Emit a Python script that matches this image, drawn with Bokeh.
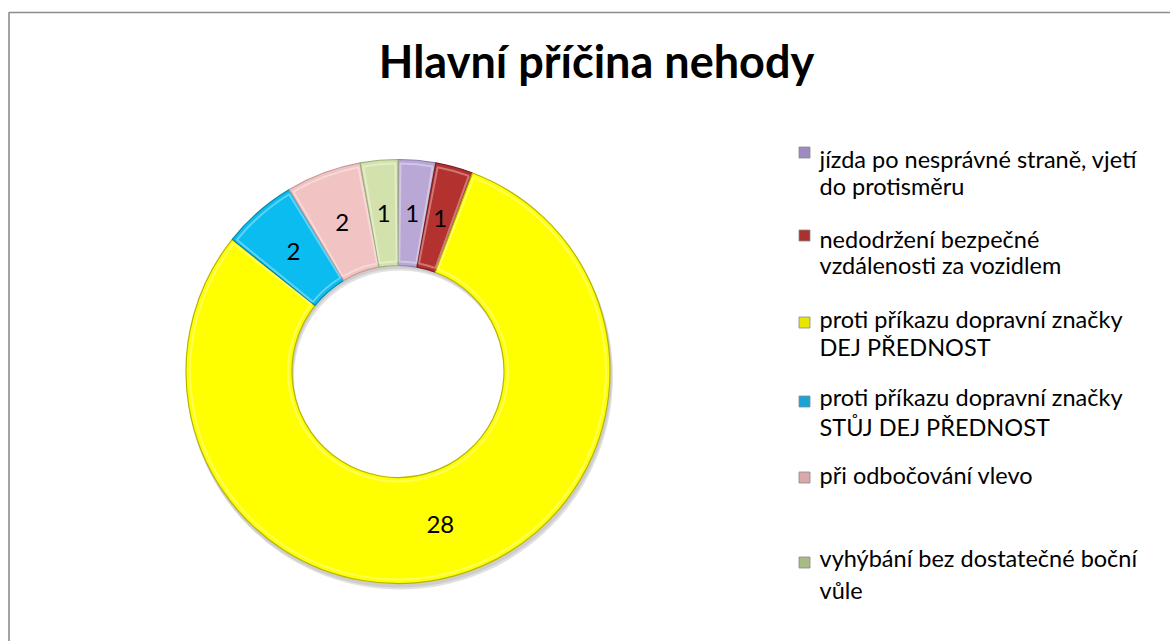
import numpy as np
from bokeh.plotting import figure
from bokeh.models import Range1d
from bokeh.core.properties import value
from bokeh.embed import file_html
from bokeh.resources import INLINE

# ---- data ----
title_text = "Hlavní příčina nehody"
categories = [
    "jízda po nesprávné straně, vjetí\ndo protisměru",
    "nedodržení bezpečné\nvzdálenosti za vozidlem",
    "proti příkazu dopravní značky\nDEJ PŘEDNOST",
    "proti příkazu dopravní značky\nSTŮJ DEJ PŘEDNOST",
    "při odbočování vlevo",
    "vyhýbání bez dostatečné boční\nvůle",
]
values = [1, 1, 28, 2, 2, 1]
colors = ["#B9A8D5", "#B3312F", "#FFFF00", "#0ABCF0", "#F2C3C3", "#D3E2AC"]
edge_colors = ["#8E7CB0", "#7E1E1C", "#B5B500", "#0688B0", "#C99A9A", "#9FB07A"]
marker_colors = ["#9D8BC2", "#A93230", "#E6E600", "#1AA3D6", "#D9A9A9", "#A9BB84"]

# ---- layout ----
W, H = 1170, 641
def Y(px):
    return H - px

def base(px, fs):
    # compensate for renderer baseline placement
    return Y(px - 0.38 * fs)

FONT = "Lato"
cx, cy = 397.5, Y(371)
r_in, r_out = 106, 212

p = figure(width=W, height=H, output_backend="svg", toolbar_location=None,
           x_range=Range1d(0, W), y_range=Range1d(0, H),
           x_axis_type=None, y_axis_type=None, min_border=0)
p.outline_line_color = None
p.grid.visible = False
p.background_fill_color = "white"
p.border_fill_color = "white"

# frame
p.line(x=[8.5, 8.5, W + 5], y=[Y(H + 5), Y(12), Y(12)], line_color="#8C8C8C", line_width=1.6)

# donut
vals = np.array(values, dtype=float)
total = vals.sum()
cum = np.concatenate([[0], np.cumsum(vals)])
starts = np.pi / 2 - cum[1:] / total * 2 * np.pi
ends = np.pi / 2 - cum[:-1] / total * 2 * np.pi
mids = (starts + ends) / 2

# shadow
p.annulus(x=cx + 2, y=cy - 5, inner_radius=r_in, outer_radius=r_out + 1,
          fill_color="#777777", fill_alpha=0.22, line_color=None)
p.annulus(x=cx + 1, y=cy - 3, inner_radius=r_in, outer_radius=r_out + 1,
          fill_color="#777777", fill_alpha=0.18, line_color=None)

p.annular_wedge(x=cx, y=cy, inner_radius=r_in, outer_radius=r_out,
                start_angle=list(starts), end_angle=list(ends),
                fill_color=colors, line_color=edge_colors, line_width=1.2,
                direction="anticlock")
# bevel highlight
inset = 0.012
p.annular_wedge(x=cx, y=cy, inner_radius=r_in + 4, outer_radius=r_out - 4,
                start_angle=list(starts + inset), end_angle=list(ends - inset),
                fill_color=None, line_color="white", line_alpha=0.35, line_width=2,
                direction="anticlock")

# data labels
r_mid = (r_in + r_out) / 2
lx = cx + r_mid * np.cos(mids)
ly = cy + r_mid * np.sin(mids)
p.text(x=list(lx), y=list(ly), text=[str(v) for v in values],
       text_font=value(FONT), text_font_size="24px", text_color="black",
       text_align="center", text_baseline="middle")

# title
TFS = 45
p.text(x=[596], y=[base(78, TFS)], text=[title_text], text_font=value(FONT),
       text_font_size=f"{TFS}px", text_font_style="bold", text_color="black",
       text_align="center", text_baseline="alphabetic")

# legend
LFS = 23.5
first_baselines = [167, 247, 327, 405, 483, 566]
second_gaps = [27, 26, 28, 30, 0, 32]
marker_centers = [152, 235, 322, 401, 477, 562]
tx, tys, tt = [], [], []
for i, lab in enumerate(categories):
    lines = lab.split("\n")
    for j, ln in enumerate(lines):
        tx.append(819)
        tys.append(base(first_baselines[i] + j * second_gaps[i], LFS))
        tt.append(ln)
p.text(x=tx, y=tys, text=tt, text_font=value(FONT), text_font_size=f"{LFS}px",
       text_color="black", text_align="left", text_baseline="alphabetic")
p.rect(x=[804] * len(categories), y=[Y(m) for m in marker_centers], width=11, height=11,
       fill_color=marker_colors, line_color="#888888", line_width=0.8)

open("out.html", "w").write(file_html(p, INLINE))
